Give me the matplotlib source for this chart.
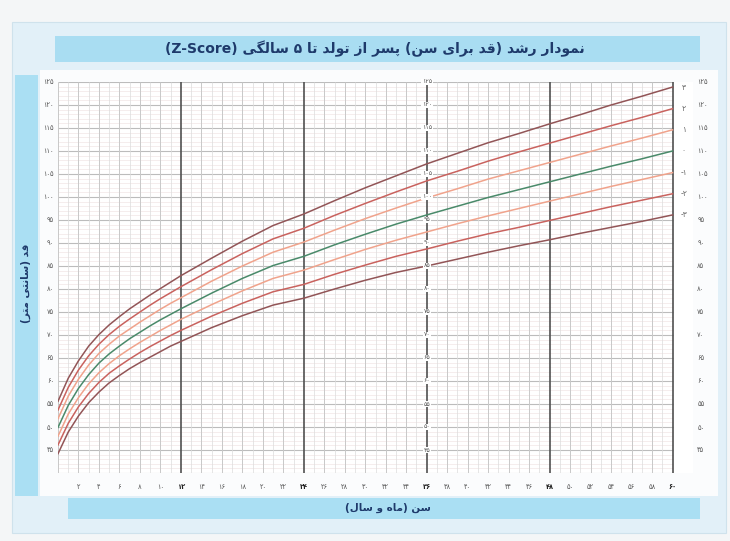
import matplotlib.pyplot as plt
from matplotlib.patches import Rectangle

# WHO length/height-for-age, boys, birth to 5 years (cm)
months = [0, 1, 2, 3, 4, 5, 6, 7, 8, 9, 10, 11, 12, 15, 18, 21, 24,
          27, 30, 33, 36, 39, 42, 45, 48, 51, 54, 57, 60]
sd_m3 = [44.2, 48.9, 52.4, 55.3, 57.6, 59.6, 61.2, 62.7, 64.0, 65.2, 66.4, 67.6, 68.6, 71.6, 74.2, 76.5, 78.0,
         80.0, 81.9, 83.6, 85.0, 86.5, 88.0, 89.4, 90.7, 92.1, 93.4, 94.7, 96.1]
sd_m2 = [46.1, 50.8, 54.4, 57.3, 59.7, 61.7, 63.3, 64.8, 66.2, 67.5, 68.7, 69.9, 71.0, 74.1, 76.9, 79.4, 81.0,
         83.2, 85.2, 87.1, 88.7, 90.4, 92.0, 93.4, 94.9, 96.4, 97.9, 99.3, 100.7]
sd_m1 = [48.0, 52.8, 56.4, 59.4, 61.8, 63.8, 65.5, 67.0, 68.4, 69.7, 71.0, 72.2, 73.4, 76.6, 79.6, 82.3, 84.1,
         86.4, 88.6, 90.6, 92.4, 94.2, 95.9, 97.5, 99.1, 100.7, 102.3, 103.8, 105.3]
sd_0 = [49.9, 54.7, 58.4, 61.4, 63.9, 65.9, 67.6, 69.2, 70.6, 72.0, 73.3, 74.5, 75.7, 79.1, 82.3, 85.1, 87.1,
        89.6, 91.9, 94.1, 96.1, 98.0, 99.9, 101.6, 103.3, 105.0, 106.7, 108.3, 110.0]
sd_p1 = [51.8, 56.7, 60.4, 63.5, 66.0, 68.0, 69.8, 71.3, 72.8, 74.2, 75.6, 76.9, 78.1, 81.7, 85.0, 88.0, 90.2,
         92.8, 95.3, 97.6, 99.8, 101.8, 103.9, 105.7, 107.5, 109.3, 111.1, 112.8, 114.6]
sd_p2 = [53.7, 58.6, 62.4, 65.5, 68.0, 70.1, 71.9, 73.5, 75.0, 76.5, 77.9, 79.2, 80.5, 84.2, 87.7, 90.9, 93.2,
         96.0, 98.6, 101.1, 103.5, 105.6, 107.8, 109.8, 111.7, 113.6, 115.5, 117.3, 119.2]
sd_p3 = [55.6, 60.6, 64.4, 67.6, 70.1, 72.2, 74.0, 75.7, 77.2, 78.7, 80.1, 81.5, 82.9, 86.7, 90.4, 93.8, 96.3,
         99.2, 102.0, 104.6, 107.2, 109.5, 111.8, 113.8, 115.9, 117.9, 120.0, 121.9, 123.9]

curves = [sd_p3, sd_p2, sd_p1, sd_0, sd_m1, sd_m2, sd_m3]
z_labels = ['3', '2', '1', '0', '-1', '-2', '-3']
colors = ['#925557', '#c9625e', '#f0a38c', '#4a8a6a', '#f0a38c', '#c9625e', '#925557']

height_ticks = list(range(45, 126, 5))
month_ticks = list(range(2, 61, 2))

title = 'نمودار رشد (قد برای سن) پسر از تولد تا ۵ سالگی (Z-Score)'
ylabel = 'قد (سانتی متر)'
xlabel = 'سن (ماه و سال)'

# --- minimal Persian shaping: (isolated, final, initial, medial) ---
FORMS = {
    'ا': ('\uFE8D', '\uFE8E', None, None),
    'ب': ('\uFE8F', '\uFE90', '\uFE91', '\uFE92'),
    'پ': ('\uFB56', '\uFB57', '\uFB58', '\uFB59'),
    'ت': ('\uFE95', '\uFE96', '\uFE97', '\uFE98'),
    'د': ('\uFEA9', '\uFEAA', None, None),
    'ر': ('\uFEAD', '\uFEAE', None, None),
    'ز': ('\uFEAF', '\uFEB0', None, None),
    'س': ('\uFEB1', '\uFEB2', '\uFEB3', '\uFEB4'),
    'ش': ('\uFEB5', '\uFEB6', '\uFEB7', '\uFEB8'),
    'ق': ('\uFED5', '\uFED6', '\uFED7', '\uFED8'),
    'گ': ('\uFB92', '\uFB93', '\uFB94', '\uFB95'),
    'ل': ('\uFEDD', '\uFEDE', '\uFEDF', '\uFEE0'),
    'م': ('\uFEE1', '\uFEE2', '\uFEE3', '\uFEE4'),
    'ن': ('\uFEE5', '\uFEE6', '\uFEE7', '\uFEE8'),
    'ه': ('\uFEE9', '\uFEEA', '\uFEEB', '\uFEEC'),
    'و': ('\uFEED', '\uFEEE', None, None),
    'ی': ('\uFBFC', '\uFBFD', '\uFBFE', '\uFBFF'),
}
MIRROR = {'(': ')', ')': '('}


def shape(s):
    out = []
    for i, ch in enumerate(s):
        if ch not in FORMS:
            out.append(ch)
            continue
        iso, fin, ini, med = FORMS[ch]
        prev = s[i - 1] if i > 0 else ''
        nxt = s[i + 1] if i + 1 < len(s) else ''
        join_prev = prev in FORMS and FORMS[prev][2] is not None
        join_next = nxt in FORMS and ini is not None
        if join_prev and join_next:
            out.append(med)
        elif join_prev:
            out.append(fin)
        elif join_next:
            out.append(ini)
        else:
            out.append(iso)
    return ''.join(out)


def rtl(s):
    runs = []
    for ch in shape(s):
        ltr = (ch.isascii() and (ch.isalnum() or ch == '-')) or '\u06f0' <= ch <= '\u06f9'
        if runs and runs[-1][0] == ltr:
            runs[-1][1].append(ch)
        else:
            runs.append([ltr, [ch]])
    out = ''
    for ltr, chars in reversed(runs):
        if ltr:
            out += ''.join(chars)
        else:
            out += ''.join(MIRROR.get(c, c) for c in reversed(chars))
    return out


def fa(v):
    return str(v).translate(str.maketrans('0123456789', '۰۱۲۳۴۵۶۷۸۹'))


plt.rcParams['font.family'] = ['DejaVu Sans']

W, H = 730, 541
fig = plt.figure(figsize=(W / 100, H / 100), dpi=100)
fig.patch.set_facecolor('#f4f6f7')


def box(x0, y0, x1, y1, fc, ec='none', z=0):
    fig.add_artist(Rectangle((x0 / W, 1 - y1 / H), (x1 - x0) / W, (y1 - y0) / H,
                             transform=fig.transFigure, facecolor=fc, edgecolor=ec, lw=0.8, zorder=z))


# panels and banners
box(12, 22, 726, 533, '#e2f0f8', '#cfe2ec')
box(40, 70, 718, 496, '#fbfcfd')
box(55, 36, 700, 62, '#a9ddf2')
box(15, 75, 38, 496, '#aadff3')
box(68, 498, 700, 519, '#aadff3')

ax = fig.add_axes([58 / W, 1 - 473 / H, (693 - 58) / W, (473 - 82) / H])
ax.set_facecolor('white')
ax.set_xlim(0, 62)
ax.set_ylim(40, 125)
for s in ax.spines.values():
    s.set_visible(False)

# grid: 1 cm faint, 5 cm grey; every month grey, years dark
for c in range(40, 126):
    col, lw = ('#bcbcbc', 0.8) if c % 5 == 0 else ('#f1e6e6', 0.5)
    ax.hlines(c, 0, 60, color=col, lw=lw, zorder=1)
for m in range(0, 61):
    if m % 12 == 0 and m > 0:
        col, lw = '#505050', 1.2
    elif m % 2 == 0:
        col, lw = '#c8c8c8', 0.7
    else:
        col, lw = '#dcdcdc', 0.5
    ax.vlines(m, 40, 125, color=col, lw=lw, zorder=1 if lw < 1 else 2)

for vals, col in zip(curves, colors):
    ax.plot(months, vals, color=col, lw=1.1, zorder=3)

for vals, lab, col in zip(curves, z_labels, colors):
    txt = fa(lab.lstrip('-'))
    if lab.startswith('-'):
        txt = '-' + txt
    ax.text(61.1, vals[-1], txt, ha='center', va='center', fontsize=5.5, color='#6a6a6a', zorder=4)

# height labels along the 3-year line
for h in height_ticks:
    ax.text(36, h, fa(h), ha='center', va='center', fontsize=4.5, color='#555555', zorder=5,
            bbox=dict(facecolor='white', edgecolor='none', pad=0.6))

ax.set_yticks(height_ticks)
ax.set_yticklabels([fa(h) for h in height_ticks])
ax.set_xticks(month_ticks)
ax.set_xticklabels([fa(m) for m in month_ticks])
ax.tick_params(axis='y', length=0, pad=3, labelsize=4.8, labelcolor='#555555',
               labelleft=True, labelright=True)
ax.tick_params(axis='x', length=0, pad=8, labelsize=4.8, labelcolor='#555555')
for m, t in zip(month_ticks, ax.get_xticklabels()):
    if m % 12 == 0:
        t.set_fontweight('bold')
        t.set_color('#222222')

fig.text(375 / W, 1 - 49 / H, rtl(title), ha='center', va='center',
         fontsize=10, fontweight='bold', color='#1e3a6b')
fig.text(26 / W, 1 - 283 / H, rtl(ylabel), ha='center', va='center', rotation=90,
         fontsize=7.5, fontweight='bold', color='#1e3a6b')
fig.text(388 / W, 1 - 508 / H, rtl(xlabel), ha='center', va='center',
         fontsize=7.5, fontweight='bold', color='#1e3a6b')

fig.savefig('out.png', dpi=100, facecolor=fig.get_facecolor())
